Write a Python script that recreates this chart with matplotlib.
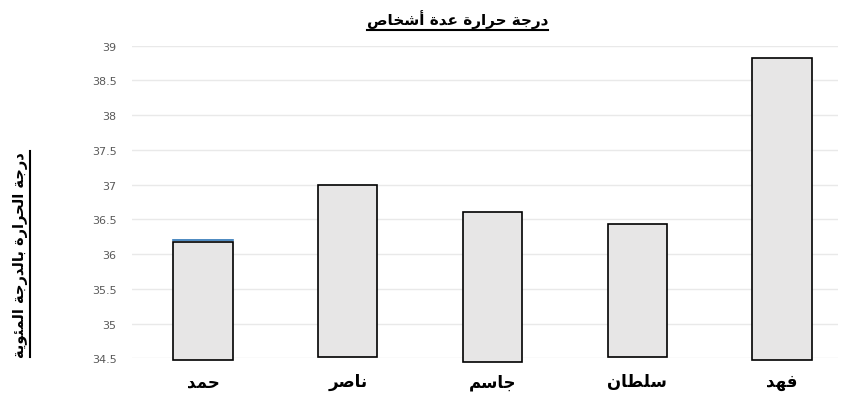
import matplotlib
matplotlib.use("Agg")
import matplotlib.pyplot as plt
from matplotlib.lines import Line2D

# Data
names = ["حمد", "ناصر", "جاسم", "سلطان", "فهد"]
temps = [36.18, 37.0, 36.61, 36.44, 38.83]
bottoms = [34.48, 34.52, 34.45, 34.52, 34.47]
yticks = [34.5, 35, 35.5, 36, 36.5, 37, 37.5, 38, 38.5, 39]
title = "درجة حرارة عدة أشخاص"
ylabel = "درجة الحرارة بالدرجة المئوية"

# Simple Arabic shaping (matplotlib has no bidi / joining support)
FORMS = {
    "ا": ("\uFE8D", "\uFE8E", None, None),
    "أ": ("\uFE83", "\uFE84", None, None),
    "ة": ("\uFE93", "\uFE94", None, None),
    "د": ("\uFEA9", "\uFEAA", None, None),
    "ر": ("\uFEAD", "\uFEAE", None, None),
    "و": ("\uFEED", "\uFEEE", None, None),
    "ئ": ("\uFE89", "\uFE8A", "\uFE8B", "\uFE8C"),
    "ب": ("\uFE8F", "\uFE90", "\uFE91", "\uFE92"),
    "ج": ("\uFE9D", "\uFE9E", "\uFE9F", "\uFEA0"),
    "ح": ("\uFEA1", "\uFEA2", "\uFEA3", "\uFEA4"),
    "خ": ("\uFEA5", "\uFEA6", "\uFEA7", "\uFEA8"),
    "س": ("\uFEB1", "\uFEB2", "\uFEB3", "\uFEB4"),
    "ش": ("\uFEB5", "\uFEB6", "\uFEB7", "\uFEB8"),
    "ص": ("\uFEB9", "\uFEBA", "\uFEBB", "\uFEBC"),
    "ط": ("\uFEC1", "\uFEC2", "\uFEC3", "\uFEC4"),
    "ع": ("\uFEC9", "\uFECA", "\uFECB", "\uFECC"),
    "ف": ("\uFED1", "\uFED2", "\uFED3", "\uFED4"),
    "ل": ("\uFEDD", "\uFEDE", "\uFEDF", "\uFEE0"),
    "م": ("\uFEE1", "\uFEE2", "\uFEE3", "\uFEE4"),
    "ن": ("\uFEE5", "\uFEE6", "\uFEE7", "\uFEE8"),
    "ه": ("\uFEE9", "\uFEEA", "\uFEEB", "\uFEEC"),
    "ي": ("\uFEF1", "\uFEF2", "\uFEF3", "\uFEF4"),
}
LAM_ALEF = {"ا": ("\uFEFB", "\uFEFC"), "أ": ("\uFEF7", "\uFEF8")}


def dual(c):
    return c in FORMS and FORMS[c][2] is not None


def shape(txt):
    out = []
    i = 0
    while i < len(txt):
        c = txt[i]
        if c not in FORMS:
            out.append(c)
            i += 1
            continue
        prev = txt[i - 1] if i > 0 else ""
        join_prev = dual(prev)
        if c == "ل" and i + 1 < len(txt) and txt[i + 1] in LAM_ALEF:
            iso, fin = LAM_ALEF[txt[i + 1]]
            out.append(fin if join_prev else iso)
            i += 2
            continue
        nxt = txt[i + 1] if i + 1 < len(txt) else ""
        join_next = dual(c) and nxt in FORMS
        iso, fin, ini, med = FORMS[c]
        if join_prev and join_next:
            out.append(med)
        elif join_prev:
            out.append(fin)
        elif join_next:
            out.append(ini)
        else:
            out.append(iso)
        i += 1
    return "".join(out)[::-1]


plt.rcParams["font.family"] = ["DejaVu Sans"]

fig = plt.figure(figsize=(8.47, 4.10), dpi=100)
ax = fig.add_axes([0.1558, 0.1237, 0.8335, 0.7624])

x = list(range(len(names)))
w = 0.41
heights = [t - b for t, b in zip(temps, bottoms)]
ax.bar(x, heights, bottom=bottoms, width=w, color="#e7e6e6",
       edgecolor="black", linewidth=1.2, zorder=3, clip_on=False)
# thin blue edge left over on the first bar's top
ax.plot([x[0] - w / 2, x[0] + w / 2], [temps[0] + 0.02, temps[0] + 0.02],
        color="#2e75b6", linewidth=1.2, zorder=4)

ax.set_xlim(-0.49, 4.386)
ax.set_ylim(34.5, 39)
ax.set_yticks(yticks)
ax.set_yticklabels([f"{v:g}" for v in yticks], fontsize=8, color="#595959")
ax.grid(axis="y", color="#e9e9e9", linewidth=1.0, zorder=0)
ax.set_axisbelow(True)
ax.set_xticks(x)
ax.set_xticklabels([shape(n) for n in names], fontsize=12,
                   fontweight="bold", color="black")
ax.tick_params(axis="y", length=0, pad=11)
ax.tick_params(axis="x", length=0, pad=10)
for s in ax.spines.values():
    s.set_visible(False)

t = fig.text(0.54, 0.952, shape(title), ha="center", va="center",
             fontsize=11, fontweight="bold")
yl = fig.text(0.024, 0.378, shape(ylabel), ha="center", va="center",
              rotation=90, fontsize=10.5, fontweight="bold")

# underline title and y label
fig.canvas.draw()
r = fig.canvas.get_renderer()
inv = fig.transFigure.inverted()
bb = t.get_window_extent(r).transformed(inv)
fig.add_artist(Line2D([bb.x0, bb.x1], [bb.y0 - 0.005, bb.y0 - 0.005],
                      color="black", linewidth=1.5, transform=fig.transFigure))
bb = yl.get_window_extent(r).transformed(inv)
fig.add_artist(Line2D([bb.x1 + 0.003, bb.x1 + 0.003], [bb.y0, bb.y1],
                      color="black", linewidth=1.5, transform=fig.transFigure))

fig.savefig("out.png", dpi=100, facecolor="white")
